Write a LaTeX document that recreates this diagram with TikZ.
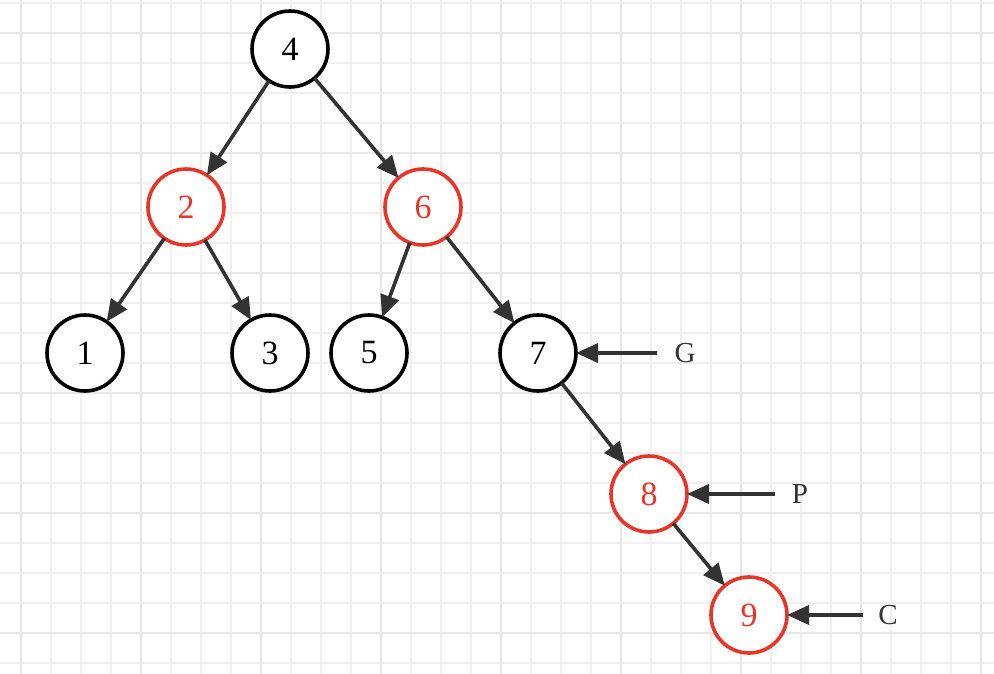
\documentclass[tikz,border=0pt]{standalone}
\usepackage{fontspec}
\setmainfont{Liberation Serif}
\usetikzlibrary{arrows.meta}
\definecolor{rbred}{HTML}{E8352A}
\definecolor{edgegray}{HTML}{333333}
\definecolor{gridminor}{HTML}{F0F0F0}
\definecolor{gridmajor}{HTML}{E6E6E6}
\tikzset{
  treenode/.style={circle, draw=black, line width=3.6pt, minimum size=76pt, inner sep=0pt, outer sep=0pt, fill=white, font=\fontsize{34}{40}\selectfont},
  rednode/.style={treenode, draw=rbred, text=rbred},
  edge/.style={draw=edgegray, line width=3.6pt, -{Triangle[length=22pt,width=19pt]}},
  lbl/.style={font=\fontsize{29}{34}\selectfont, text=edgegray, inner sep=0pt},
}
\begin{document}
\begin{tikzpicture}[x=1pt,y=-1pt]
\useasboundingbox (0,0) rectangle (994,674);
\fill[white] (0,0) rectangle (994,674);
% grid
\foreach \gx in {21,51,...,981} \draw[gridminor, line width=1.8pt] (\gx,0) -- (\gx,674);
\foreach \gy in {3,33,...,663} \draw[gridminor, line width=1.8pt] (0,\gy) -- (994,\gy);
\foreach \gx in {21,141,...,981} \draw[gridmajor, line width=2.5pt] (\gx,0) -- (\gx,674);
\foreach \gy in {33,153,...,633} \draw[gridmajor, line width=2.5pt] (0,\gy) -- (994,\gy);
% nodes
\node[treenode] (n4) at (290,49) {4};
\node[rednode] (n2) at (186,207) {2};
\node[rednode] (n6) at (423,207) {6};
\node[treenode] (n1) at (85,353) {1};
\node[treenode] (n3) at (270,353) {3};
\node[treenode] (n5) at (369,353) {5};
\node[treenode] (n7) at (538,353) {7};
\node[rednode] (n8) at (649,494) {8};
\node[rednode] (n9) at (749,615) {9};
% labels
\node[lbl] (g) at (685,353) {G};
\node[lbl] (p) at (800,494) {P};
\node[lbl] (c) at (888,615) {C};
\coordinate (gs) at (657,353);
\coordinate (ps) at (775,494);
\coordinate (cs) at (863,615);
% edges
\draw[edge] (n4) -- (n2);
\draw[edge] (n4) -- (n6);
\draw[edge] (n2) -- (n1);
\draw[edge] (n2) -- (n3);
\draw[edge] (n6) -- (n5);
\draw[edge] (n6) -- (n7);
\draw[edge] (n7) -- (n8);
\draw[edge] (n8) -- (n9);
\draw[edge] (gs) -- (n7);
\draw[edge] (ps) -- (n8);
\draw[edge] (cs) -- (n9);
\end{tikzpicture}
\end{document}
